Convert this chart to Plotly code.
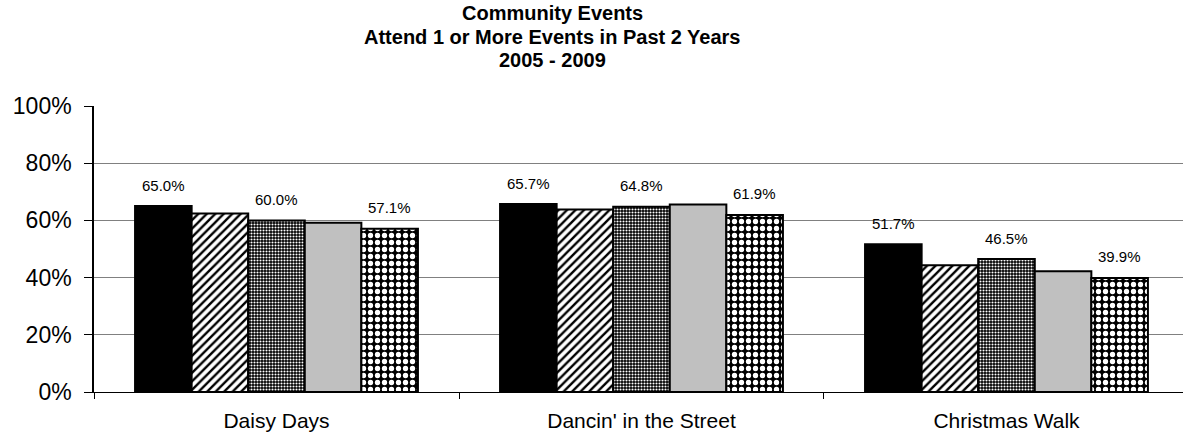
import plotly.graph_objects as go

# Share of residents attending one or more events in the past two years
events = ["Daisy Days", "Dancin' in the Street", "Christmas Walk"]
years = ["2005", "2006", "2007", "2008", "2009"]
pct_2005 = [65.0, 65.7, 51.7]
pct_2006 = [62.4, 63.8, 44.3]
pct_2007 = [60.0, 64.8, 46.5]
pct_2008 = [59.2, 65.6, 42.2]
pct_2009 = [57.1, 61.9, 39.9]
y_ticks = [0, 20, 40, 60, 80, 100]
title_lines = ["Community Events", "Attend 1 or More Events in Past 2 Years", "2005 - 2009"]

series = [pct_2005, pct_2006, pct_2007, pct_2008, pct_2009]
labelled = {"2005", "2007", "2009"}

FONT = "Liberation Sans, Arial, sans-serif"
BARGAP = 0.225
N_SERIES = len(years)
BAR_W = (1 - BARGAP) / N_SERIES

# Monochrome fills per year
fills = [
    dict(color="black"),
    dict(color="white", pattern=dict(shape="/", fgcolor="black", bgcolor="white",
                                     fgopacity=1, size=6, solidity=0.4)),
    dict(color="black", pattern=dict(shape=".", fgcolor="white", bgcolor="black",
                                     fgopacity=1, size=3, solidity=0.4)),
    dict(color="#c0c0c0"),
    dict(color="black", pattern=dict(shape=".", fgcolor="white", bgcolor="black",
                                     fgopacity=1, size=7, solidity=0.45)),
]

fig = go.Figure()
annotations = []
for j, (name, vals, fill) in enumerate(zip(years, series, fills)):
    fig.add_trace(go.Bar(
        name=name,
        x=events,
        y=vals,
        marker=dict(line=dict(color="black", width=2), **fill),
    ))
    if name in labelled:
        for i, v in enumerate(vals):
            annotations.append(dict(
                x=i + (j - (N_SERIES - 1) / 2) * BAR_W, xref="x",
                y=v, yref="y",
                text=f"{v:.1f}%",
                showarrow=False,
                yanchor="middle", yshift=21,
                font=dict(family=FONT, size=15, color="black"),
            ))

# Three-line bold heading
for line, ypos in zip(title_lines, [1.3252, 1.2413, 1.1608]):
    annotations.append(dict(
        x=0.4206, xref="paper", y=ypos, yref="paper",
        text=f"<b>{line}</b>", showarrow=False,
        xanchor="center", yanchor="middle",
        font=dict(family=FONT, size=20, color="black"),
    ))

fig.update_layout(
    width=1183,
    height=436,
    margin=dict(l=94, r=0, t=106, b=44),
    paper_bgcolor="white",
    plot_bgcolor="white",
    barmode="group",
    bargap=BARGAP,
    bargroupgap=0,
    showlegend=False,
    font=dict(family=FONT, color="black"),
    annotations=annotations,
    xaxis=dict(
        range=[-0.5, 2.4836],
        showline=True, linecolor="black", linewidth=1,
        ticks="outside", tickson="boundaries", ticklen=6, tickcolor="black",
        ticklabelstandoff=10,
        tickfont=dict(size=21),
        showgrid=False,
    ),
    yaxis=dict(
        range=[0, 100],
        tickvals=y_ticks,
        ticktext=[f"{t}%" for t in y_ticks],
        showline=True, linecolor="black", linewidth=1.5,
        ticks="outside", ticklen=8, tickcolor="black",
        ticklabelstandoff=8,
        tickfont=dict(size=23),
        showgrid=True, gridcolor="#808080", gridwidth=1,
        zeroline=False,
    ),
)

fig.write_html("out.html")
